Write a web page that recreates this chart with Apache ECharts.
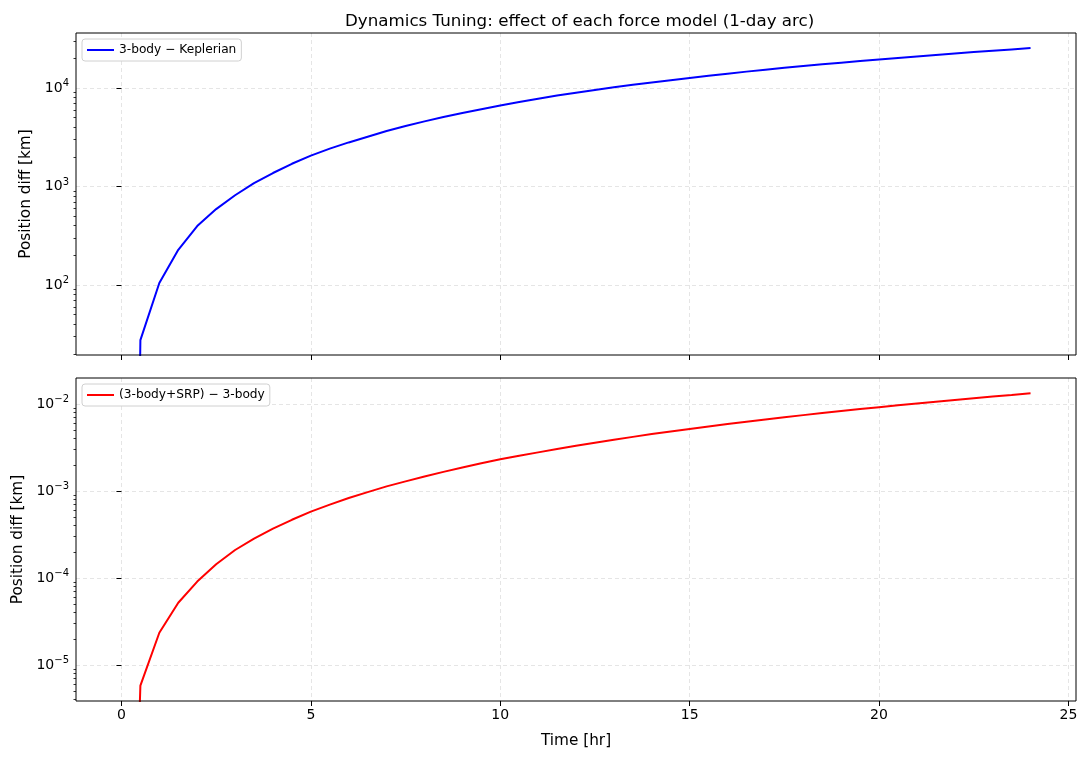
<!DOCTYPE html>
<html>
<head>
<meta charset="utf-8">
<script src="https://cdn.jsdelivr.net/npm/echarts@6/dist/echarts.min.js"></script>
<style>
  html, body { margin: 0; padding: 0; background: #fff; }
  #main { width: 1087px; height: 758px; }
</style>
</head>
<body>
<div id="main"></div>
<script>
// time samples [hr]
var hours = [0, 0.5, 1, 1.5, 2, 2.5, 3, 3.5, 4, 4.5, 5, 5.5, 6, 6.5, 7, 7.5, 8, 8.5,
    9, 9.5, 10, 10.5, 11, 11.5, 12, 12.5, 13, 13.5, 14, 14.5, 15, 15.5, 16, 16.5,
    17, 17.5, 18, 18.5, 19, 19.5, 20, 20.5, 21, 21.5, 22, 22.5, 23, 23.5, 24];

// 3-body - Keplerian [km]
var diffThreeBody = [0, 27.6, 105, 228, 397, 590, 815, 1080, 1370, 1700, 2055, 2420,
    2800, 3200, 3660, 4110, 4580, 5070, 5570, 6090, 6630, 7200, 7780, 8360, 8950,
    9540, 10140, 10750, 11360, 11990, 12620, 13290, 13960, 14640, 15320, 16000,
    16690, 17390, 18060, 18750, 19440, 20170, 20900, 21640, 22380, 23120, 23870,
    24610, 25360];

// (3-body+SRP) - 3-body [km]
var diffSrp = [0, 5.8e-6, 2.35e-5, 5.2e-5, 9.1e-5, 1.44e-4, 2.1e-4, 2.84e-4, 3.7e-4,
    4.67e-4, 5.8e-4, 6.98e-4, 8.3e-4, 9.7e-4, 1.13e-3, 1.29e-3, 1.47e-3, 1.66e-3,
    1.86e-3, 2.08e-3, 2.32e-3, 2.54e-3, 2.78e-3, 3.04e-3, 3.31e-3, 3.59e-3, 3.88e-3,
    4.19e-3, 4.51e-3, 4.83e-3, 5.17e-3, 5.52e-3, 5.88e-3, 6.26e-3, 6.65e-3, 7.05e-3,
    7.45e-3, 7.87e-3, 8.3e-3, 8.75e-3, 9.2e-3, 9.67e-3, 1.015e-2, 1.064e-2, 1.114e-2,
    1.165e-2, 1.218e-2, 1.272e-2, 1.33e-2];

// tick positions
var xTicks = [0, 5, 10, 15, 20, 25];
var yTicksTop = [1e2, 1e3, 1e4];
var yTicksBottom = [1e-5, 1e-4, 1e-3, 1e-2];
var minorTop = [20, 30, 40, 50, 60, 70, 80, 90, 200, 300, 400, 500, 600, 700, 800, 900,
    2000, 3000, 4000, 5000, 6000, 7000, 8000, 9000, 20000, 30000];
var minorBottom = [4e-6, 5e-6, 6e-6, 7e-6, 8e-6, 9e-6, 2e-5, 3e-5, 4e-5, 5e-5, 6e-5, 7e-5,
    8e-5, 9e-5, 2e-4, 3e-4, 4e-4, 5e-4, 6e-4, 7e-4, 8e-4, 9e-4, 2e-3, 3e-3, 4e-3, 5e-3,
    6e-3, 7e-3, 8e-3, 9e-3];

window.onload = function() {
    var myChart = echarts.init(document.getElementById('main')),
        font = 'DejaVu Sans',
        option;

    // log axis can't show 0, clip it to a tiny value like matplotlib does
    function pairs(vals) {
        return hours.map(function(h, i) {
            return [h, vals[i] > 0 ? vals[i] : 1e-12];
        });
    }

    function powLabel(v) {
        var e = Math.round(Math.log10(v));
        return '{b|10}{s|' + String(e).replace('-', '\u2212') + '}';
    }

    var gridLine = { show: true, lineStyle: { color: '#dedede', type: [4, 3], width: 0.8 } };
    var richLab = {
        b: { fontFamily: font, fontSize: 14, color: '#000' },
        s: { fontFamily: font, fontSize: 10, color: '#000', padding: [0, 0, 9, 0] }
    };
    var nameStyle = { fontFamily: font, fontSize: 15.3, color: '#000' };

    function xAxis(idx, labels) {
        return {
            type: 'value', gridIndex: idx, min: -1.2, max: 25.2,
            axisLine: { show: false },
            axisTick: { show: true, length: 5, lineStyle: { color: '#000' }, customValues: xTicks },
            axisLabel: {
                show: labels, color: '#000', fontFamily: font, fontSize: 14, margin: 7,
                customValues: xTicks
            },
            splitLine: gridLine,
            name: labels ? 'Time [hr]' : '',
            nameLocation: 'middle', nameGap: 33,
            nameTextStyle: nameStyle
        };
    }

    function yAxis(idx, min, max, ticks, gap) {
        return {
            type: 'log', logBase: 10, gridIndex: idx, min: min, max: max, position: 'left',
            axisLine: { show: false },
            axisTick: { show: true, length: 5, lineStyle: { color: '#000' }, customValues: ticks },
            axisLabel: {
                color: '#000', margin: 7, customValues: ticks,
                formatter: powLabel, rich: richLab
            },
            splitLine: gridLine,
            name: 'Position diff [km]',
            nameLocation: 'middle', nameGap: gap,
            nameTextStyle: nameStyle
        };
    }

    // second log axis on the same side, only for matplotlib-style minor ticks
    function minorAxis(idx, min, max, ticks) {
        return {
            type: 'log', logBase: 10, gridIndex: idx, min: min, max: max,
            position: 'left', offset: 0,
            axisLine: { show: false },
            axisTick: { show: true, length: 2.5, lineStyle: { color: '#000', width: 0.8 }, customValues: ticks },
            axisLabel: { show: false },
            splitLine: { show: false }
        };
    }

    function legend(name, top) {
        return {
            data: [name], left: 82, top: top, orient: 'vertical',
            icon: 'rect', itemWidth: 27, itemHeight: 2, itemGap: 4,
            backgroundColor: '#fff', borderColor: '#d0d0d0', borderWidth: 1,
            borderRadius: 3, padding: [5, 5, 5, 5],
            textStyle: { fontFamily: font, fontSize: 12.2, color: '#000' }
        };
    }

    option = {
        animation: false,
        title: {
            text: 'Dynamics Tuning: effect of each force model (1-day arc)',
            left: 340, top: 8,
            textStyle: { fontFamily: font, fontSize: 16.7, fontWeight: 'normal', color: '#000' }
        },
        legend: [
            legend('3-body \u2212 Keplerian', 39),
            legend('(3-body+SRP) \u2212 3-body', 384)
        ],
        grid: [
            { left: 76, right: 11, top: 33, height: 322, show: true, borderColor: '#000', borderWidth: 1, z: 5 },
            { left: 76, right: 11, top: 378, height: 323, show: true, borderColor: '#000', borderWidth: 1, z: 5 }
        ],
        xAxis: [xAxis(0, false), xAxis(1, true)],
        yAxis: [
            yAxis(0, 19.5, 36100, yTicksTop, 41),
            yAxis(1, 3.86e-6, 0.0199, yTicksBottom, 50),
            minorAxis(0, 19.5, 36100, minorTop),
            minorAxis(1, 3.86e-6, 0.0199, minorBottom)
        ],
        series: [{
            name: '3-body \u2212 Keplerian',
            type: 'line', xAxisIndex: 0, yAxisIndex: 0,
            data: pairs(diffThreeBody),
            symbol: 'none', clip: true,
            lineStyle: { color: '#0000ff', width: 2 },
            itemStyle: { color: '#0000ff' }
        }, {
            name: '(3-body+SRP) \u2212 3-body',
            type: 'line', xAxisIndex: 1, yAxisIndex: 1,
            data: pairs(diffSrp),
            symbol: 'none', clip: true,
            lineStyle: { color: '#ff0000', width: 2 },
            itemStyle: { color: '#ff0000' }
        }]
    };

    myChart.setOption(option);
};
</script>
</body>
</html>
